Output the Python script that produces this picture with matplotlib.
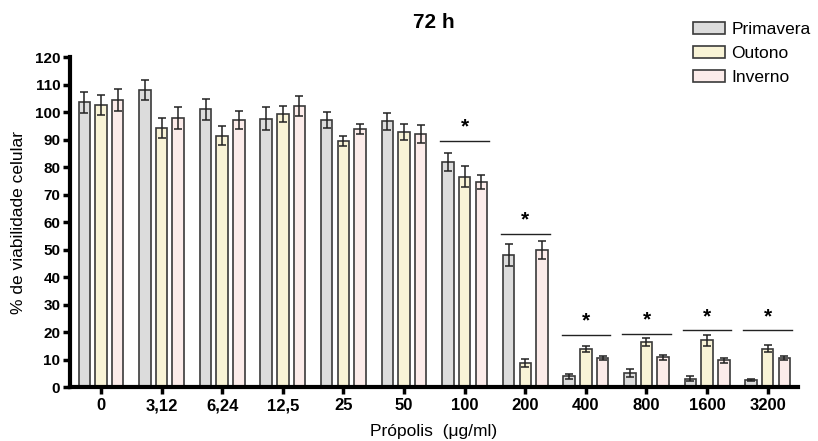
import numpy as np
import matplotlib

matplotlib.use("Agg")
import matplotlib.pyplot as plt

plt.rcParams["font.family"] = ["Liberation Sans", "DejaVu Sans"]

# data
doses = ["0", "3,12", "6,24", "12,5", "25", "50", "100", "200", "400", "800", "1600", "3200"]
seasons = ["Primavera", "Outono", "Inverno"]

primavera = [103.6, 108.0, 101.0, 97.5, 97.1, 96.6, 81.8, 48.0, 3.9, 5.0, 3.0, 2.6]
primavera_err = [3.8, 3.6, 3.9, 4.2, 3.0, 3.0, 3.3, 4.0, 1.0, 1.5, 0.9, 0.3]
outono = [102.5, 94.2, 91.4, 99.2, 89.5, 92.7, 76.4, 8.7, 13.9, 16.3, 17.0, 14.0]
outono_err = [3.6, 3.5, 3.5, 2.9, 1.8, 3.0, 3.8, 1.6, 1.0, 1.4, 2.0, 1.2]
inverno = [104.4, 98.0, 97.2, 102.2, 93.9, 92.0, 74.5, 49.8, 10.6, 10.8, 9.8, 10.6]
inverno_err = [4.0, 4.0, 3.2, 3.6, 1.8, 3.3, 2.6, 3.3, 0.6, 0.9, 0.9, 0.8]

# significance markers: group index and height of the bracket line
sig_groups = [6, 7, 8, 9, 10, 11]
sig_heights = [89.5, 55.7, 19.0, 19.3, 20.7, 20.7]

colors = ["#dcdcdc", "#f8f3d6", "#fcecea"]
edge = "#3a3a3a"

fig = plt.figure(figsize=(8.18, 4.41), dpi=100)
ax = fig.add_axes([0.0856, 0.1224, 0.89, 0.7483])

x = np.arange(len(doses))
width = 0.19
offset = 0.275
series = [(primavera, primavera_err), (outono, outono_err), (inverno, inverno_err)]
for i, (vals, errs) in enumerate(series):
    ax.bar(
        x + (i - 1) * offset,
        vals,
        width,
        yerr=errs,
        color=colors[i],
        edgecolor=edge,
        linewidth=1.2,
        label=seasons[i],
        error_kw=dict(ecolor="#222222", elinewidth=1.1, capsize=3, capthick=1.1),
    )

for g, h in zip(sig_groups, sig_heights):
    ax.plot([g - 0.4, g + 0.4], [h, h], color="#222222", lw=1.0)
    ax.text(g, h + 1.5, "*", ha="center", va="bottom", fontsize=15, fontweight="bold")

ax.set_xlim(-0.51, 11.5)
ax.set_ylim(0, 120)
ax.set_yticks(np.arange(0, 121, 10))
ax.set_xticks(x)
ax.set_xticklabels(doses)
ax.tick_params(axis="both", width=2.5, length=5)
ax.tick_params(axis="y", labelsize=11, pad=2)
ax.tick_params(axis="x", labelsize=12, pad=3)
for lab in ax.get_xticklabels() + ax.get_yticklabels():
    lab.set_fontweight("bold")

for side in ["top", "right"]:
    ax.spines[side].set_visible(False)
ax.spines["left"].set_linewidth(3)
ax.spines["bottom"].set_linewidth(3)

ax.set_ylabel("% de viabilidade celular", fontsize=12.5, labelpad=6)
ax.set_xlabel("Própolis  (μg/ml)", fontsize=12.5, labelpad=8)
fig.text(434 / 818, 1 - 22 / 441, "72 h", ha="center", va="center",
         fontsize=15, fontweight="bold")

fig.legend(
    loc="upper left",
    bbox_to_anchor=(693 / 818, 1 - 22 / 441),
    borderaxespad=0,
    borderpad=0,
    frameon=False,
    fontsize=12.5,
    handlelength=1.85,
    handleheight=0.7,
    labelspacing=0.5,
    handletextpad=0.35,
)

fig.savefig("out.png", dpi=100)
